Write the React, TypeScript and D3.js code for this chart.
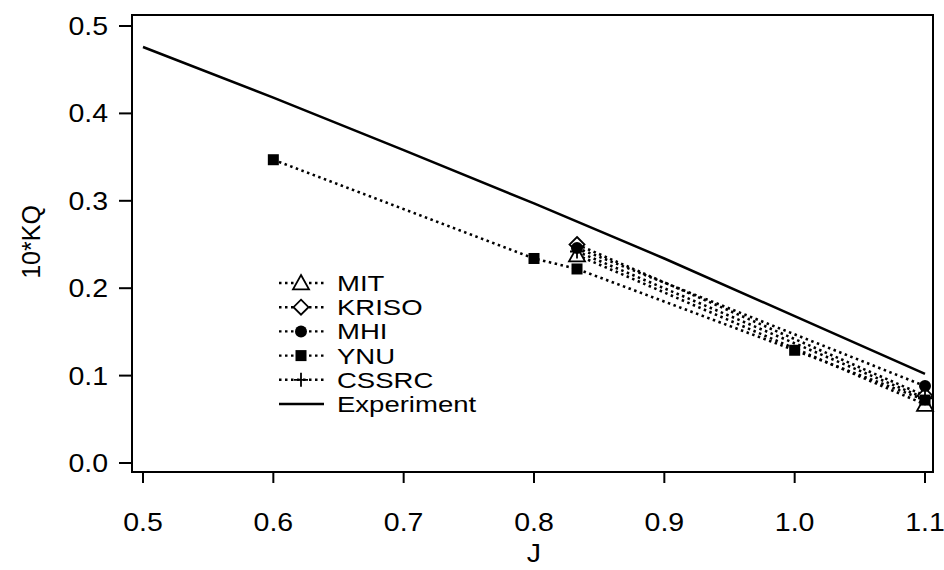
import React from "react";
import * as d3 from "d3";

const xTicks = [0.5, 0.6, 0.7, 0.8, 0.9, 1.0, 1.1];
const yTicks = [0.0, 0.1, 0.2, 0.3, 0.4, 0.5];

const expJ = [0.5, 0.6, 0.7, 0.8, 0.9, 1.0, 1.1];
const expKQ = [0.476, 0.418, 0.358, 0.297, 0.234, 0.168, 0.102];

const mitJ = [0.833, 1.1];
const mitKQ = [0.238, 0.067];
const krisoJ = [0.833, 1.1];
const krisoKQ = [0.25, 0.077];
const mhiJ = [0.833, 1.1];
const mhiKQ = [0.246, 0.088];
const ynuJ = [0.6, 0.8, 0.833, 1.0, 1.1];
const ynuKQ = [0.347, 0.234, 0.222, 0.129, 0.072];
const cssrcJ = [0.833, 1.1];
const cssrcKQ = [0.242, 0.074];

const legendNames = ["MIT", "KRISO", "MHI", "YNU", "CSSRC", "Experiment"];

const FONT = "'Liberation Sans', Arial, Helvetica, sans-serif";
const FS = 25;
const SX = 1.14;
const LFS = 21.5;
const LSX = 1.28;

function Marker({ kind, x, y }: { kind: string; x: number; y: number }) {
  if (kind === "tri") {
    const s = 8;
    return (
      <path
        d={`M${x},${y - s} L${x + s},${y + s * 0.8} L${x - s},${y + s * 0.8} Z`}
        fill="#fff"
        stroke="#000"
        strokeWidth={1.8}
      />
    );
  }
  if (kind === "dia") {
    const s = 7.5;
    return (
      <path
        d={`M${x},${y - s} L${x + s},${y} L${x},${y + s} L${x - s},${y} Z`}
        fill="#fff"
        stroke="#000"
        strokeWidth={1.8}
      />
    );
  }
  if (kind === "cir") {
    return <circle cx={x} cy={y} r={6} fill="#000" />;
  }
  if (kind === "sq") {
    return <rect x={x - 5.5} y={y - 5.5} width={11} height={11} fill="#000" />;
  }
  if (kind === "plus") {
    return (
      <path
        d={`M${x - 7},${y} L${x + 7},${y} M${x},${y - 7} L${x},${y + 7}`}
        stroke="#000"
        strokeWidth={1.8}
      />
    );
  }
  return null;
}

export default function App() {
  const W = 944;
  const H = 570;
  const x = d3.scaleLinear().domain([0.5, 1.1]).range([143, 925]);
  const y = d3.scaleLinear().domain([0, 0.5]).range([463, 26]);
  const line = d3
    .line<[number, number]>()
    .x((d) => x(d[0]))
    .y((d) => y(d[1]));

  const series = [
    { name: "MIT", J: mitJ, KQ: mitKQ, kind: "tri" },
    { name: "KRISO", J: krisoJ, KQ: krisoKQ, kind: "dia" },
    { name: "MHI", J: mhiJ, KQ: mhiKQ, kind: "cir" },
    { name: "YNU", J: ynuJ, KQ: ynuKQ, kind: "sq" },
    { name: "CSSRC", J: cssrcJ, KQ: cssrcKQ, kind: "plus" },
  ];

  const left = 132,
    top = 15,
    right = 933,
    bottom = 472;

  const txt = (
    tx: number,
    ty: number,
    s: string,
    anchor: string,
    key?: string | number,
    fs: number = FS,
    sx: number = SX
  ) => (
    <text
      key={key}
      transform={`translate(${tx},${ty}) scale(${sx},1)`}
      textAnchor={anchor}
      fontFamily={FONT}
      fontSize={fs}
      fill="#000"
    >
      {s}
    </text>
  );

  return (
    <svg
      width={W}
      height={H}
      style={{ position: "absolute", left: 0, top: 0, background: "#fff" }}
    >
      <rect x={0} y={0} width={W} height={H} fill="#fff" />
      <rect
        x={left}
        y={top}
        width={right - left}
        height={bottom - top}
        fill="none"
        stroke="#000"
        strokeWidth={2}
      />
      {yTicks.map((t, i) => (
        <g key={"y" + i}>
          <line x1={119} x2={left} y1={y(t)} y2={y(t)} stroke="#000" strokeWidth={2} />
          {txt(108, y(t) + 9, t.toFixed(1), "end", "yt" + i)}
        </g>
      ))}
      {xTicks.map((t, i) => (
        <g key={"x" + i}>
          <line x1={x(t)} x2={x(t)} y1={bottom} y2={bottom + 11} stroke="#000" strokeWidth={2} />
          {txt(x(t), 531, t.toFixed(1), "middle", "xt" + i)}
        </g>
      ))}
      {txt(x(0.8), 562, "J", "middle", "xl")}
      <text
        transform={`translate(40,242) rotate(-90)`}
        textAnchor="middle"
        fontFamily={FONT}
        fontSize={FS}
        fill="#000"
      >
        10*KQ
      </text>
      <path
        d={line(expJ.map((j, i) => [j, expKQ[i]] as [number, number])) || ""}
        fill="none"
        stroke="#000"
        strokeWidth={2.5}
      />
      {series.map((s) => (
        <path
          key={"l" + s.name}
          d={line(s.J.map((j, i) => [j, s.KQ[i]] as [number, number])) || ""}
          fill="none"
          stroke="#000"
          strokeWidth={2.6}
          strokeDasharray="2.5,3.5"
        />
      ))}
      {series.map((s) =>
        s.J.map((j, i) => (
          <Marker key={s.name + i} kind={s.kind} x={x(j)} y={y(s.KQ[i])} />
        ))
      )}
      {legendNames.map((n, i) => {
        const ly = 283 + i * 24.2;
        const s = series[i];
        return (
          <g key={"lg" + i}>
            <line
              x1={279}
              x2={324}
              y1={ly}
              y2={ly}
              stroke="#000"
              strokeWidth={2.4}
              strokeDasharray={s ? "2.5,3.5" : undefined}
            />
            {s && <Marker kind={s.kind} x={301} y={ly} />}
            {txt(337, ly + 8, n, "start", "lt" + i, LFS, LSX)}
          </g>
        );
      })}
    </svg>
  );
}
